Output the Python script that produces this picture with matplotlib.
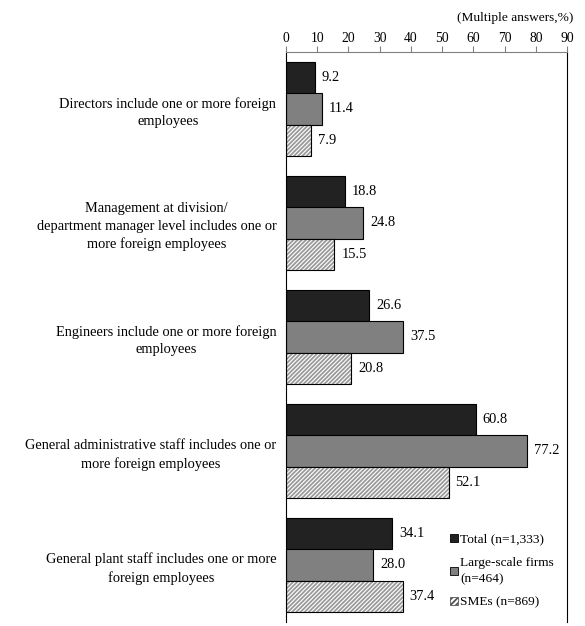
import numpy as np
import matplotlib.pyplot as plt
from matplotlib.patches import Patch

plt.rcParams['font.family'] = ['Liberation Serif', 'DejaVu Serif']
plt.rcParams['font.size'] = 10.4
plt.rcParams['hatch.linewidth'] = 1.3

categories = [
    "Directors include one or more foreign\nemployees",
    "Management at division/\ndepartment manager level includes one or\nmore foreign employees",
    "Engineers include one or more foreign\nemployees",
    "General administrative staff includes one or\nmore foreign employees",
    "General plant staff includes one or more\nforeign employees",
]
total = [9.2, 18.8, 26.6, 60.8, 34.1]
large = [11.4, 24.8, 37.5, 77.2, 28.0]
smes = [7.9, 15.5, 20.8, 52.1, 37.4]
series_names = ["Total (n=1,333)", "Large-scale firms\n(n=464)", "SMEs (n=869)"]

fig = plt.figure(figsize=(5.85, 6.26), dpi=100)
ax = fig.add_axes([286 / 585, 1 - 622 / 626, (567 - 286) / 585, (622 - 52) / 626])

y = np.arange(len(categories))
h = 0.272

ax.barh(y - h, total, height=h, color='#222222', edgecolor='black', linewidth=0.8)
ax.barh(y, large, height=h, color='#808080', edgecolor='black', linewidth=0.8)
# hatched bars: grey stripes first, black outline on top
ax.barh(y + h, smes, height=h, color='white', edgecolor='#9a9a9a', hatch='////////', linewidth=0)
ax.barh(y + h, smes, height=h, fill=False, edgecolor='black', linewidth=0.8)

for vals, off in [(total, -h), (large, 0), (smes, h)]:
    for yi, v in zip(y, vals):
        ax.annotate(f"{v:.1f}", (v, yi + off), xytext=(5, 0), textcoords='offset points',
                    va='center', ha='left')

ax.set_xlim(0, 90)
ax.set_ylim(len(categories) - 0.5, -0.5)
ax.set_xticks(np.arange(0, 91, 10))
ax.xaxis.tick_top()
ax.tick_params(axis='x', direction='out', length=4, color='#808080', pad=1, labelsize=9.8)
ax.set_yticks(y)
ax.set_yticklabels(categories)
ax.tick_params(axis='y', length=0, pad=7)
for lab in ax.get_yticklabels():
    lab.set_multialignment('center')
    lab.set_linespacing(1.45)

ax.spines['top'].set_color('#808080')
ax.spines['bottom'].set_visible(False)
ax.spines['left'].set_linewidth(0.8)
ax.spines['right'].set_linewidth(0.8)

fig.text(573 / 585, 1 - 18 / 626, "(Multiple answers,%)", ha='right', va='center', fontsize=9.6)

handles = [
    Patch(facecolor='#222222', edgecolor='black', linewidth=0.6),
    Patch(facecolor='#808080', edgecolor='black', linewidth=0.6),
    Patch(facecolor='white', edgecolor='#555555', hatch='//////', linewidth=0.6),
]
leg = ax.legend(handles, series_names, loc='lower right', bbox_to_anchor=(1.0, 0.0),
                frameon=False, handlelength=0.6, handleheight=0.6, handletextpad=0.15,
                labelspacing=0.85, borderaxespad=0.6, fontsize=9.6)
for t in leg.get_texts():
    t.set_linespacing(1.5)

fig.savefig('out.png', dpi=100)
